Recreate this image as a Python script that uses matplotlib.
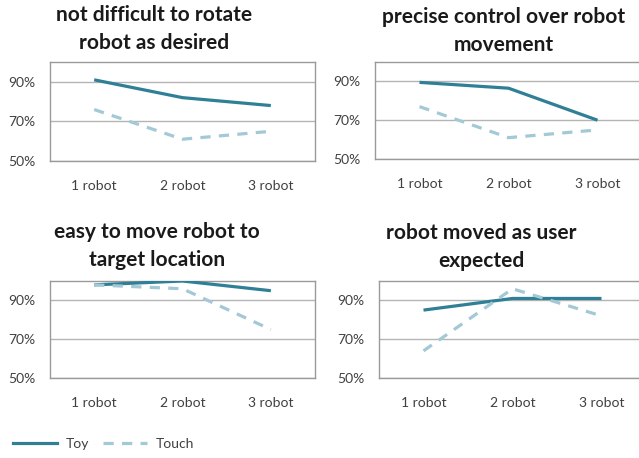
import matplotlib
matplotlib.use('Agg')
from matplotlib import pyplot as plt
from matplotlib.lines import Line2D

plt.rcParams['font.family'] = ['Lato', 'DejaVu Sans']

categories = ['1 robot', '2 robot', '3 robot']
titles = ['not difficult to rotate\nrobot as desired',
          'precise control over robot\nmovement',
          'easy to move robot to\ntarget location',
          'robot moved as user\nexpected']
toy_rotate = [91, 82, 78]
touch_rotate = [76, 61, 65]
toy_control = [89.5, 86.5, 70]
touch_control = [77, 61, 65]
toy_target = [98, 100, 95]
touch_target = [98, 96, 75]
toy_expected = [85, 91, 91]
touch_expected = [64, 96, 82]
yticks = [50, 70, 90]
ytick_labels = ['50%', '70%', '90%']

toy_series = [toy_rotate, toy_control, toy_target, toy_expected]
touch_series = [touch_rotate, touch_control, touch_target, touch_expected]

W, H = 639, 458
fig = plt.figure(figsize=(W / 100, H / 100), dpi=100)

# axes boxes in pixels: left, top, right, bottom
boxes = [(50, 62, 315, 161), (375, 62, 642, 159),
         (50, 281, 315, 378), (379, 281, 646, 378)]
# title centre x and centre y of the two lines (pixels)
title_pos = [(154, 29), (504, 31), (157, 246), (481, 247)]

TOY = '#2f8096'
TOUCH = '#a3c9d6'
GRID = '#b4b4b4'

for i, (l, t, r, b) in enumerate(boxes):
    ax = fig.add_axes([l / W, 1 - b / H, (r - l) / W, (b - t) / H])
    x = range(len(categories))
    ax.plot(x, toy_series[i], color=TOY, lw=2.3, solid_capstyle='butt', zorder=3)
    ax.plot(x, touch_series[i], color=TOUCH, lw=2.3, dashes=(3.2, 2.6), zorder=3)
    ax.set_xlim(-0.5, 2.5)
    ax.set_ylim(50, 100)
    ax.set_yticks(yticks)
    ax.set_yticklabels(ytick_labels)
    ax.set_xticks(list(x))
    ax.set_xticklabels(categories)
    ax.tick_params(length=0, labelsize=10, colors='#404040')
    ax.tick_params(axis='y', pad=10.5)
    ax.tick_params(axis='x', pad=14)
    for s in ax.spines.values():
        s.set_color('#9a9a9a')
        s.set_linewidth(1.0)
    ax.grid(axis='y', color=GRID, lw=1.0)
    ax.set_axisbelow(True)
    cx, cy = title_pos[i]
    fig.text(cx / W, 1 - cy / H, titles[i], ha='center', va='center',
             fontsize=15, fontweight='bold', color='#1a1a1a', linespacing=1.5)

handles = [Line2D([], [], color=TOY, lw=2.3),
           Line2D([], [], color=TOUCH, lw=2.3, dashes=(3.2, 2.6))]
fig.legend(handles, ['Toy', 'Touch'], loc='center left',
           bbox_to_anchor=(0.0, 1 - 444 / H), ncol=2, frameon=False,
           fontsize=10, handlelength=3.2, columnspacing=1.0, handletextpad=0.6,
           labelcolor='#404040')

fig.savefig('out.png', dpi=100)
